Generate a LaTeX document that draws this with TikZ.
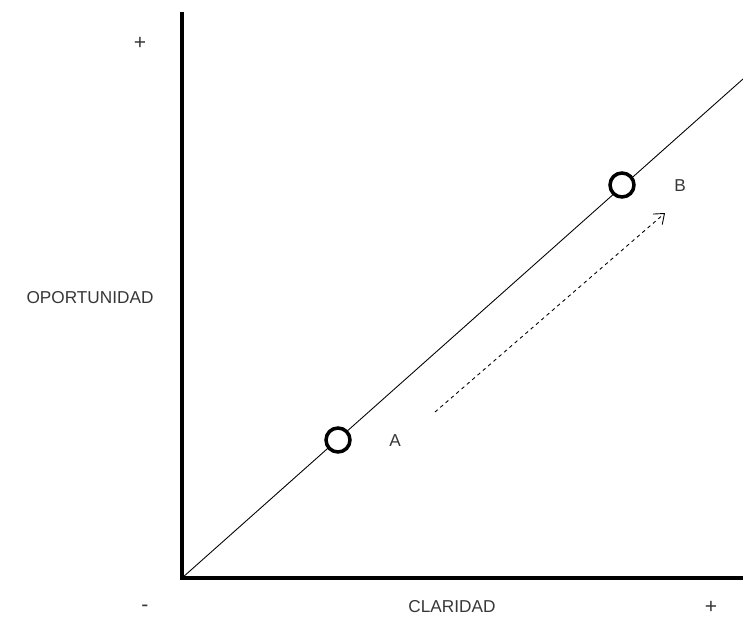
\documentclass[tikz,border=0pt]{standalone}
\usepackage{fontspec}
\setmainfont{Liberation Sans}
\usetikzlibrary{arrows.meta,positioning}
\definecolor{LabelGray}{RGB}{55,55,55}
\tikzset{
  axis/.style={line width=2.2pt,black},
  diag/.style={line width=0.5pt,black},
  point/.style={circle,draw=black,fill=white,line width=2pt,
    minimum size=0.48cm,inner sep=0pt},
  lab/.style={font=\fontsize{9.8}{11.5}\selectfont,text=LabelGray},
  sign/.style={font=\fontsize{12}{14}\selectfont,text=LabelGray},
  move/.style={-{Straight Barb[length=1.8mm,width=2.8mm]},dashed,
    line width=0.5pt,dash pattern=on 2pt off 2pt}
}
\begin{document}
\begin{tikzpicture}
  \useasboundingbox (0,0) rectangle (14.86,12.4);

  \coordinate (origin) at (3.64,0.84);
  \coordinate (ytop) at (3.64,12.16);
  \coordinate (xend) at (14.86,0.84);
  \coordinate (dend) at (14.86,10.82);

  \draw[diag] (origin) -- (dend);
  \draw[axis] (ytop) -- (origin) -- (xend);

  \node[point] (ptA) at (6.76,3.6) {};
  \node[point] (ptB) at (12.44,8.7) {};
  \node[lab] (labA) at (7.9,3.58) {A};
  \node[lab] (labB) at (13.6,8.68) {B};

  \coordinate (mvstart) at (8.70,4.16);
  \coordinate (mvend) at (13.30,8.14);
  \draw[move] (mvstart) -- (mvend);

  \node[lab] (yname) at (1.8,6.44) {OPORTUNIDAD};
  \node[lab] (xname) at (9.04,0.26) {CLARIDAD};
  \node[sign] (minus) at (2.9,0.24) {-};
  \node[sign] (xplus) at (14.22,0.26) {+};
  \node[sign] (yplus) at (2.8,11.54) {+};
\end{tikzpicture}
\end{document}
